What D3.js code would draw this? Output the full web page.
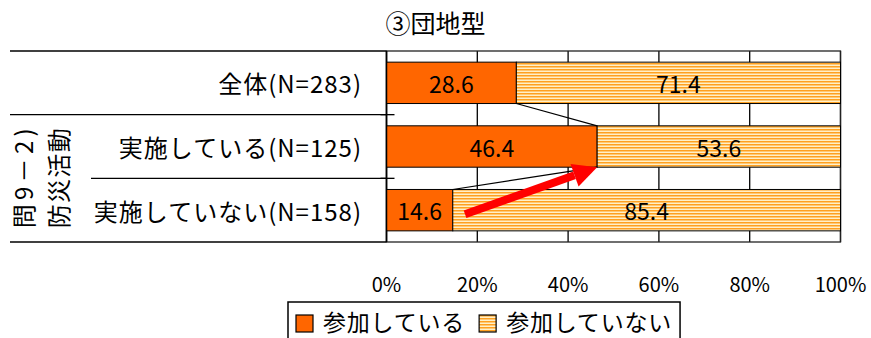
<!DOCTYPE html>
<html>
<head>
<meta charset="utf-8">
<script src="https://cdn.jsdelivr.net/npm/d3@7"></script>
<style>
  body { margin: 0; background: #fff; }
  text { font-family: "Noto Sans CJK JP", "Noto Sans", sans-serif; fill: #000; }
</style>
</head>
<body>
<div id="chart"></div>
<script>
const title = '③団地型';
const categories = ['全体(N=283)', '実施している(N=125)', '実施していない(N=158)'];
const groupLabel = ['問9－2)', '防災活動'];
const seriesNames = ['参加している', '参加していない'];
const joined = [28.6, 46.4, 14.6];
const notJoined = [71.4, 53.6, 85.4];
const xTicks = [0, 20, 40, 60, 80, 100];
// red arrow annotation: from (pct, row) to (pct, row)
const arrowFrom = { pct: 17.3, row: 2 };
const arrowTo = { pct: 46.4, row: 1 };

const W = 871, H = 338;
const margin = { top: 51, right: 30.5, bottom: 96, left: 386.5 };
const ORANGE = '#ff6600';

const svg = d3.select('#chart').append('svg')
    .attr('width', W).attr('height', H);

const defs = svg.append('defs');
const pat = defs.append('pattern')
    .attr('id', 'stripes')
    .attr('patternUnits', 'userSpaceOnUse')
    .attr('width', 6).attr('height', 3);
pat.append('rect').attr('width', 6).attr('height', 3).attr('fill', '#fff0c8');
pat.append('rect').attr('width', 6).attr('height', 1.5).attr('fill', '#ffa020');

const x = d3.scaleLinear().domain([0, 100]).range([margin.left, W - margin.right]);
const y = d3.scaleBand().domain(categories)
    .range([margin.top, H - margin.bottom])
    .paddingInner(0.35).paddingOuter(0.175);

const rows = categories.map((c, i) => ({ cat: c, a: joined[i], b: notJoined[i] }));

// title
svg.append('text')
    .attr('x', W / 2).attr('y', 22)
    .attr('text-anchor', 'middle').attr('dominant-baseline', 'central')
    .style('font-size', '25px')
    .text(title);

// gridlines
svg.append('g').selectAll('line').data(xTicks).join('line')
    .attr('x1', d => x(d)).attr('x2', d => x(d))
    .attr('y1', y.range()[0]).attr('y2', y.range()[1])
    .attr('stroke', '#000').attr('stroke-width', 1.3);

// plot border
svg.append('rect')
    .attr('x', x(0)).attr('y', y.range()[0])
    .attr('width', x(100) - x(0)).attr('height', y.range()[1] - y.range()[0])
    .attr('fill', 'none').attr('stroke', '#222').attr('stroke-width', 1.3);

// bars
const bh = y.bandwidth();
svg.append('g').selectAll('rect').data(rows).join('rect')
    .attr('x', x(0)).attr('y', d => y(d.cat))
    .attr('width', d => x(d.a) - x(0)).attr('height', bh)
    .attr('fill', ORANGE).attr('stroke', '#000').attr('stroke-width', 1);
svg.append('g').selectAll('rect').data(rows).join('rect')
    .attr('x', d => x(d.a)).attr('y', d => y(d.cat))
    .attr('width', d => x(d.a + d.b) - x(d.a)).attr('height', bh)
    .attr('fill', 'url(#stripes)').attr('stroke', '#000').attr('stroke-width', 1);

// series lines between bars
svg.append('g').selectAll('line').data(rows.slice(1)).join('line')
    .attr('x1', (d, i) => x(rows[i].a)).attr('y1', (d, i) => y(rows[i].cat) + bh)
    .attr('x2', d => x(d.a)).attr('y2', d => y(d.cat))
    .attr('stroke', '#000').attr('stroke-width', 1.2);

// value labels
const valFont = '23px';
svg.append('g').selectAll('text').data(rows).join('text')
    .attr('x', d => x(d.a / 2)).attr('y', d => y(d.cat) + bh / 2)
    .attr('text-anchor', 'middle').attr('dominant-baseline', 'central')
    .style('font-size', valFont).text(d => d.a.toFixed(1));
svg.append('g').selectAll('text').data(rows).join('text')
    .attr('x', d => x(d.a + d.b / 2)).attr('y', d => y(d.cat) + bh / 2)
    .attr('text-anchor', 'middle').attr('dominant-baseline', 'central')
    .style('font-size', valFont).text(d => d.b.toFixed(1));

// red arrow
const step = y.step();
const ax1 = x(arrowFrom.pct), ay1 = y(categories[arrowFrom.row]) + bh / 2 + 4;
const ax2 = x(arrowTo.pct), ay2 = y(categories[arrowTo.row]) + bh;
const ang = Math.atan2(ay2 - ay1, ax2 - ax1);
const headLen = 24, headHalf = 12;
const bx = ax2 - headLen * Math.cos(ang), by = ay2 - headLen * Math.sin(ang);
svg.append('line')
    .attr('x1', ax1).attr('y1', ay1).attr('x2', bx).attr('y2', by)
    .attr('stroke', '#ff0000').attr('stroke-width', 8);
svg.append('path')
    .attr('d', d3.line()([
        [ax2, ay2],
        [bx + headHalf * Math.sin(ang), by - headHalf * Math.cos(ang)],
        [bx - headHalf * Math.sin(ang), by + headHalf * Math.cos(ang)]
    ]))
    .attr('fill', '#ff0000');

// x axis labels
svg.append('g').selectAll('text').data(xTicks).join('text')
    .attr('x', d => x(d)).attr('y', 283)
    .attr('text-anchor', 'middle').attr('dominant-baseline', 'central')
    .style('font-size', '20px').text(d => d + '%');

// left table: horizontal lines at band boundaries
const bounds = d3.range(categories.length + 1).map(i => y.range()[0] + i * step);
const lineStart = [10, 10, 91, 10];
svg.append('g').selectAll('line').data(bounds).join('line')
    .attr('x1', (d, i) => lineStart[i]).attr('x2', x(0))
    .attr('y1', d => d).attr('y2', d => d)
    .attr('stroke', '#000').attr('stroke-width', 1.3);
// axis ticks
svg.append('g').selectAll('line').data(bounds.slice(1, -1)).join('line')
    .attr('x1', x(0) - 6).attr('x2', x(0) + 8)
    .attr('y1', d => d).attr('y2', d => d)
    .attr('stroke', '#000').attr('stroke-width', 1.3);
svg.append('line')
    .attr('x1', x(0)).attr('x2', x(0))
    .attr('y1', y.range()[0]).attr('y2', y.range()[1])
    .attr('stroke', '#000').attr('stroke-width', 1.5);

// category labels
svg.append('g').selectAll('text').data(categories).join('text')
    .attr('x', 362).attr('y', d => y(d) + bh / 2)
    .attr('text-anchor', 'end').attr('dominant-baseline', 'central')
    .style('font-size', '24px').style('letter-spacing', '1px').text(d => d);

// rotated group label
const gy = (bounds[1] + bounds[3]) / 2;
const gx = [22.5, 57];
svg.append('g').selectAll('text').data(groupLabel).join('text')
    .attr('transform', (d, i) => `translate(${gx[i]},${gy}) rotate(-90)`)
    .attr('text-anchor', 'middle').attr('dominant-baseline', 'central')
    .attr('textLength', 100).attr('lengthAdjust', 'spacing')
    .style('font-size', '24px').text(d => d);

// legend
const leg = svg.append('g');
const legBox = leg.append('rect')
    .attr('x', 288).attr('y', 302).attr('height', 50)
    .attr('fill', '#fff').attr('stroke', '#000').attr('stroke-width', 1.5);
let lx = 296;
seriesNames.forEach((name, i) => {
    leg.append('rect')
        .attr('x', lx).attr('y', 315).attr('width', 17).attr('height', 17)
        .attr('fill', i === 0 ? ORANGE : 'url(#stripes)')
        .attr('stroke', '#000').attr('stroke-width', 1.2);
    const t = leg.append('text')
        .attr('x', lx + 27).attr('y', 321)
        .attr('dominant-baseline', 'central')
        .style('font-size', '23px').style('letter-spacing', '0.8px').text(name);
    lx += 27 + t.node().getComputedTextLength() + 14;
});
legBox.attr('width', lx - 288 - 6);
</script>
</body>
</html>
